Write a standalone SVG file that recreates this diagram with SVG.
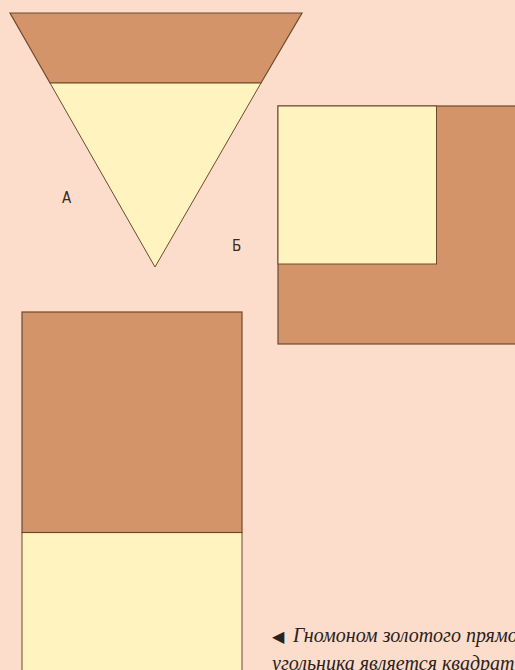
<svg xmlns="http://www.w3.org/2000/svg" width="515" height="670" viewBox="0 0 515 670">
<style>
.dark{fill:#d3946a;stroke:#6e4a2c;stroke-width:1.2}
.light{fill:#fff4bf;stroke:#6e4a2c;stroke-width:1}
.lbl{font-family:"DejaVu Sans Condensed","DejaVu Sans",sans-serif;font-size:15px;fill:#3a2a20}
.cap{font-family:"Liberation Serif",serif;font-style:italic;font-size:20px;fill:#2a2220}
</style>
<rect width="515" height="670" fill="#fcdcca"/>
<g id="triangle">
<polygon class="dark" points="10,13 302,13 261,83 50,83"/>
<polygon class="light" points="50,83 261,83 155,267"/>
<text class="lbl" x="62" y="203">А</text>
</g>
<g id="gnomon-b">
<rect class="dark" x="278" y="106" width="250" height="238"/>
<rect class="light" x="278" y="106" width="158.5" height="158"/>
<text class="lbl" x="232" y="251">Б</text>
</g>
<g id="rectangle">
<rect class="light" x="22" y="532.5" width="220" height="150"/>
<rect class="dark" x="22" y="312" width="220" height="220.5"/>
</g>
<g id="caption">
<text class="cap" x="272" y="642"><tspan font-size="16" font-style="normal">◀</tspan><tspan x="293">Гномоном золотого прямо-</tspan></text>
<text class="cap" x="272" y="670">угольника является квадрат</text>
</g>
</svg>
